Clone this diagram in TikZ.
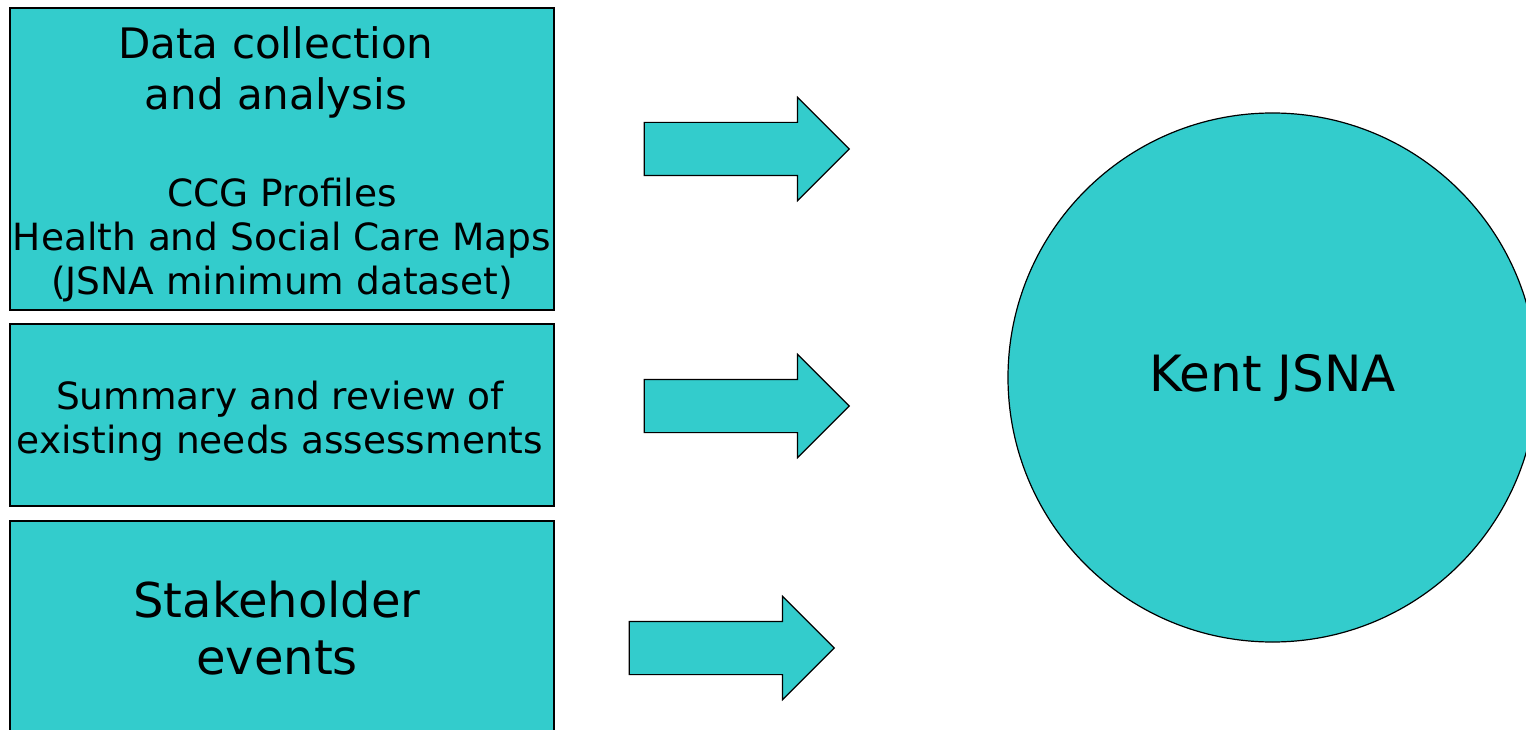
\documentclass[tikz,border=0pt]{standalone}
\usepackage{fontspec}
\setmainfont{DejaVu Sans}
\usetikzlibrary{shapes.arrows}
\definecolor{jsnateal}{HTML}{33CCCC}
\tikzset{
  box/.style={draw=black, fill=jsnateal, line width=1.2pt, inner sep=0pt},
  bigarrow/.style={single arrow, draw=black, fill=jsnateal, line width=1.2pt,
    inner xsep=0pt, inner ysep=26pt, text height=0pt, text depth=0pt,
    minimum height=205pt, minimum width=102pt,
    single arrow head extend=25pt, single arrow tip angle=90, anchor=tip},
  txt/.style={align=center, inner sep=0pt}
}
\begin{document}
\begin{tikzpicture}[x=1pt, y=-1pt]
  \useasboundingbox (0,0) rectangle (1526,730);
  % three input boxes
  \node[box, minimum width=544pt, minimum height=302pt] (collect) at (282,159) {};
  \node[box, minimum width=544pt, minimum height=182pt] (review) at (282,415) {};
  \node[box, minimum width=544pt, minimum height=230pt] (events) at (282,636) {};
  \node[txt, font=\fontsize{42}{51}\selectfont] (collecthead) at (276,72) {Data collection\\ and analysis};
  \node[txt, font=\fontsize{37.5}{44}\selectfont] (collectlist) at (282,240) {CCG Profiles\\Health and Social Care Maps\\(JSNA minimum dataset)};
  \node[txt, font=\fontsize{37.5}{44}\selectfont] (reviewtext) at (280,421) {Summary and review of\\existing needs assessments};
  \node[txt, font=\fontsize{48}{57}\selectfont] (eventstext) at (277,628) {Stakeholder\\ events};
  % arrows (placed by their tips)
  \node[bigarrow] (arrowa) at (850,149) {};
  \node[bigarrow] (arrowb) at (850,406) {};
  \node[bigarrow] (arrowc) at (835,648) {};
  % result
  \node[circle, draw=black, fill=jsnateal, line width=1.2pt, minimum size=529pt,
    font=\fontsize{50}{60}\selectfont] (kent) at (1272.5,377.5) {Kent JSNA};
\end{tikzpicture}
\end{document}
